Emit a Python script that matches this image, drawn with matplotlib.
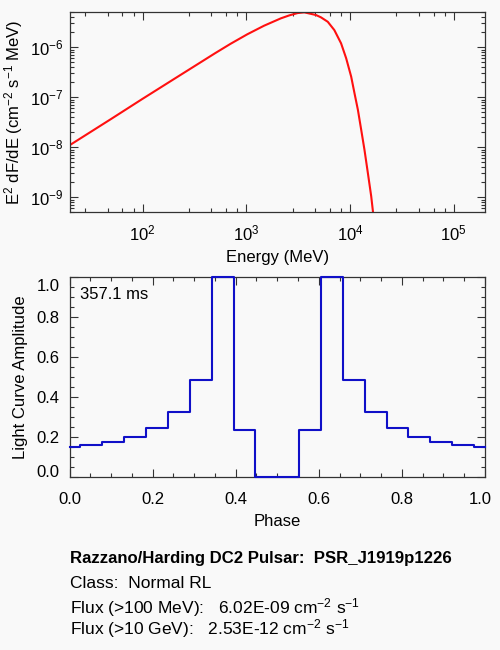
import numpy as np
import matplotlib
matplotlib.use('Agg')
import matplotlib.pyplot as plt
from matplotlib.ticker import FixedLocator, LogFormatterSciNotation, NullFormatter, MultipleLocator
from matplotlib.transforms import ScaledTranslation

plt.rcParams['font.family'] = ['Liberation Sans', 'DejaVu Sans']
plt.rcParams['mathtext.fontset'] = 'custom'
plt.rcParams['mathtext.rm'] = 'Liberation Sans'
plt.rcParams['mathtext.it'] = 'Liberation Sans:italic'
plt.rcParams['mathtext.bf'] = 'Liberation Sans:bold'

# spectrum (MeV, E^2 dF/dE)
energy = [20, 50, 100, 200, 500, 706, 1023, 1483, 2153, 2600, 3127, 3625,
          4700, 5250, 6100, 7060, 8200, 9180, 10260, 11040, 11910, 12820,
          13780, 14860, 16000, 16630, 17000]
sed = [1.11e-8, 3.7e-8, 9.3e-8, 2.3e-7, 7.6e-7, 1.175e-6, 1.82e-6, 2.70e-6,
       3.79e-6, 4.35e-6, 4.84e-6, 5.0e-6, 4.42e-6, 3.97e-6, 3.24e-6, 2.21e-6,
       1.20e-6, 6.03e-7, 2.59e-7, 1.21e-7, 5.61e-8, 2.23e-8, 8.9e-9, 3.05e-9,
       1.05e-9, 5.2e-10, 3.0e-10]

# light curve, 20 phase points (k/19)
phase = [k / 19 for k in range(20)]
amp = [0.152, 0.161, 0.175, 0.201, 0.247, 0.324, 0.485, 1.0, 0.234, 0.0,
       0.0, 0.234, 1.0, 0.485, 0.324, 0.247, 0.201, 0.175, 0.161, 0.152]

period_txt = '357.1 ms'
info_lines = ['Razzano/Harding DC2 Pulsar:  PSR_J1919p1226',
              'Class:  Normal RL',
              r'Flux (>100 MeV):   6.02E-09 cm$^{-2}$ s$^{-1}$',
              r'Flux (>10 GeV):   2.53E-12 cm$^{-2}$ s$^{-1}$']

bg = '#f9f9f9'
edge = '#333333'
fs = 12

fig = plt.figure(figsize=(5, 6.5), dpi=100, facecolor=bg)

def style(ax):
    ax.set_facecolor(bg)
    for s in ax.spines.values():
        s.set_color(edge)
        s.set_linewidth(0.9)
    ax.tick_params(which='both', direction='in', top=True, right=True,
                   colors=edge, labelcolor='black', labelsize=fs, width=0.8)
    ax.tick_params(which='major', length=6)
    ax.tick_params(which='minor', length=3)

# ---- spectrum
ax1 = fig.add_axes([0.14, 0.6734, 0.83, 0.3076])
style(ax1)
ax1.plot(energy, sed, color='#ff1010', lw=1.5)
ax1.set_xscale('log')
ax1.set_yscale('log')
ax1.set_xlim(20, 2e5)
ax1.set_ylim(5e-10, 5e-6)
ax1.xaxis.set_major_locator(FixedLocator([1e2, 1e3, 1e4, 1e5]))
minx = [d * f for d in [10, 100, 1000, 1e4, 1e5] for f in [2.8, 4.6, 6.4, 8.2]]
ax1.xaxis.set_minor_locator(FixedLocator(minx))
ax1.xaxis.set_major_formatter(LogFormatterSciNotation())
ax1.xaxis.set_minor_formatter(NullFormatter())
ax1.yaxis.set_major_locator(FixedLocator([1e-9, 1e-8, 1e-7, 1e-6]))
miny = [d * f for d in [1e-10, 1e-9, 1e-8, 1e-7, 1e-6] for f in range(2, 10)]
ax1.yaxis.set_minor_locator(FixedLocator(miny))
ax1.yaxis.set_major_formatter(LogFormatterSciNotation())
ax1.yaxis.set_minor_formatter(NullFormatter())
ax1.tick_params(axis='x', pad=8)
ax1.tick_params(axis='y', pad=5)
ax1.set_xlabel('Energy (MeV)', fontsize=fs, labelpad=5)
ax1.set_ylabel(r'E$^2$ dF/dE (cm$^{-2}$ s$^{-1}$ MeV)', fontsize=fs, labelpad=3)

# ---- light curve
ax2 = fig.add_axes([0.139, 0.2662, 0.831, 0.3069])
style(ax2)
ax2.step(phase, amp, where='mid', color='#1010c8', lw=1.5, clip_on=False,
         zorder=3)
ax2.set_xlim(0, 1)
ax2.set_ylim(0, 1)
ax2.xaxis.set_major_locator(MultipleLocator(0.2))
ax2.xaxis.set_minor_locator(MultipleLocator(0.05))
ax2.yaxis.set_major_locator(MultipleLocator(0.2))
ax2.yaxis.set_minor_locator(MultipleLocator(0.05))
ax2.xaxis.set_major_formatter(matplotlib.ticker.FormatStrFormatter('%.1f'))
ax2.yaxis.set_major_formatter(matplotlib.ticker.FormatStrFormatter('%.1f'))
ax2.tick_params(axis='x', pad=11)
ax2.tick_params(axis='y', pad=7)
ax2.set_xlabel('Phase', fontsize=fs, labelpad=5)
ax2.set_ylabel('Light Curve Amplitude', fontsize=fs, labelpad=6)
ax2.text(0.025, 0.95, period_txt, transform=ax2.transAxes, fontsize=fs,
         ha='left', va='top')

fig.canvas.draw()
for lab in ax2.get_yticklabels():
    t = lab.get_text()
    if t == '1.0':
        lab.set_transform(lab.get_transform() + ScaledTranslation(0, -0.075, fig.dpi_scale_trans))
    elif t == '0.0':
        lab.set_transform(lab.get_transform() + ScaledTranslation(0, 0.055, fig.dpi_scale_trans))
for lab in ax2.get_xticklabels():
    if lab.get_text() == '1.0':
        lab.set_transform(lab.get_transform() + ScaledTranslation(-0.05, 0, fig.dpi_scale_trans))

# ---- info block
ys = [0.1334, 0.0949, 0.0565, 0.0242]
for i, (txt, y) in enumerate(zip(info_lines, ys)):
    if i == 0:
        fig.text(0.141, y, txt, fontsize=12.1, va='baseline', ha='left',
                 fontweight='bold')
    else:
        fig.text(0.141, y, txt, fontsize=12.5, va='baseline', ha='left')

fig.savefig('out.png', dpi=100, facecolor=bg)
